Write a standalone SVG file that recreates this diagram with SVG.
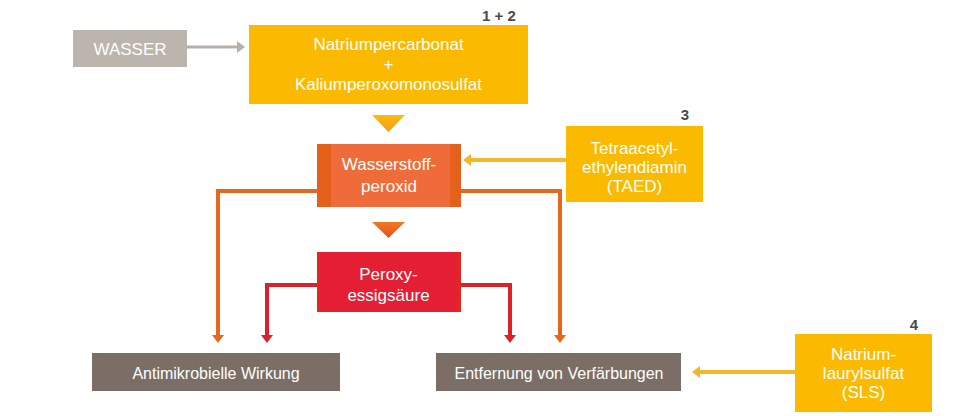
<svg xmlns="http://www.w3.org/2000/svg" width="970" height="416" viewBox="0 0 970 416">
<style>
text{font-family:"Liberation Sans",Arial,sans-serif;fill:#fff;text-anchor:middle}
.t{font-size:17px}
.b{font-size:16px}
.n{font-size:15px;font-weight:bold;fill:#4a4a4a}
.or{fill:none;stroke:#e8671e;stroke-width:4}
.rd{fill:none;stroke:#d9222b;stroke-width:4}
</style>
<defs>
<marker id="ao" markerUnits="userSpaceOnUse" markerWidth="8" markerHeight="12" refX="1" refY="6" orient="auto" viewBox="0 0 8 12"><path d="M0,0 L8,6 L0,12 z" fill="#e8671e"/></marker>
<marker id="ar" markerUnits="userSpaceOnUse" markerWidth="8" markerHeight="12" refX="1" refY="6" orient="auto" viewBox="0 0 8 12"><path d="M0,0 L8,6 L0,12 z" fill="#d9222b"/></marker>
<marker id="ay" markerUnits="userSpaceOnUse" markerWidth="8" markerHeight="12" refX="1" refY="6" orient="auto" viewBox="0 0 8 12"><path d="M0,0 L8,6 L0,12 z" fill="#f4b62a"/></marker>
<marker id="ag" markerUnits="userSpaceOnUse" markerWidth="8" markerHeight="12" refX="1" refY="6" orient="auto" viewBox="0 0 8 12"><path d="M0,0 L8,6 L0,12 z" fill="#b8b0a8"/></marker>
<linearGradient id="g1" x1="0" y1="0" x2="0" y2="1"><stop offset="0" stop-color="#fcbc0c"/><stop offset="1" stop-color="#f29a1c"/></linearGradient>
<linearGradient id="g2" x1="0" y1="0" x2="0" y2="1"><stop offset="0" stop-color="#f07a22"/><stop offset="1" stop-color="#e3501c"/></linearGradient>
</defs>

<g id="connectors">
<line x1="187" y1="47" x2="238" y2="47" stroke="#b8b0a8" stroke-width="3" marker-end="url(#ag)"/>
<line x1="566" y1="160" x2="470" y2="160" stroke="#f4b62a" stroke-width="4" marker-end="url(#ay)"/>
<path class="or" d="M317,191 H218 V336" marker-end="url(#ao)"/>
<path class="or" d="M460,191 H560 V336" marker-end="url(#ao)"/>
<path class="rd" d="M317,285 H267 V336" marker-end="url(#ar)"/>
<path class="rd" d="M460,285 H510 V336" marker-end="url(#ar)"/>
<line x1="795" y1="372" x2="699" y2="372" stroke="#f4b62a" stroke-width="4" marker-end="url(#ay)"/>
<polygon points="372,115 405,115 388.5,132" fill="url(#g1)"/>
<polygon points="372,222 405,222 388.5,238" fill="url(#g2)"/>
</g>

<g id="wasser">
<rect x="73" y="30" width="114" height="37" fill="#bcb5ae"/>
<text class="t" x="130" y="55">WASSER</text>
</g>

<g id="natrium">
<rect x="249" y="25" width="279" height="79" fill="#fbba00"/>
<text class="t" x="388.5" y="50">Natriumpercarbonat</text>
<text class="t" x="388.5" y="70">+</text>
<text class="t" x="388.5" y="90">Kaliumperoxomonosulfat</text>
<text class="n" x="499" y="21">1 + 2</text>
</g>

<g id="wasserstoff">
<rect x="317" y="144" width="144" height="63" fill="#e5601a"/>
<rect x="331" y="144" width="119" height="63" fill="#ef6c3a"/>
<text class="t" x="389" y="170">Wasserstoff-</text>
<text class="t" x="389" y="192">peroxid</text>
</g>

<g id="taed">
<rect x="566" y="126" width="137" height="76" fill="#fbba00"/>
<text class="t" x="634.5" y="154">Tetraacetyl-</text>
<text class="t" x="634.5" y="173">ethylendiamin</text>
<text class="t" x="634.5" y="192">(TAED)</text>
<text class="n" x="685" y="120">3</text>
</g>

<g id="peroxy">
<rect x="317" y="252" width="144" height="60" fill="#e02a1e"/>
<rect x="320" y="252" width="137" height="60" fill="#e41e33"/>
<text class="t" x="388.5" y="280">Peroxy-</text>
<text class="t" x="388.5" y="301">essigsäure</text>
</g>

<g id="antimikrobiell">
<rect x="92" y="353" width="248" height="38" fill="#7b6e66"/>
<text class="b" x="216" y="379">Antimikrobielle Wirkung</text>
</g>

<g id="entfernung">
<rect x="436" y="353" width="245" height="38" fill="#7b6e66"/>
<text class="b" x="559" y="379">Entfernung von Verfärbungen</text>
</g>

<g id="sls">
<rect x="795" y="334" width="137" height="78" fill="#fbba00"/>
<text class="t" x="863.5" y="360">Natrium-</text>
<text class="t" x="863.5" y="379">laurylsulfat</text>
<text class="t" x="863.5" y="398">(SLS)</text>
<text class="n" x="914" y="330">4</text>
</g>
</svg>
